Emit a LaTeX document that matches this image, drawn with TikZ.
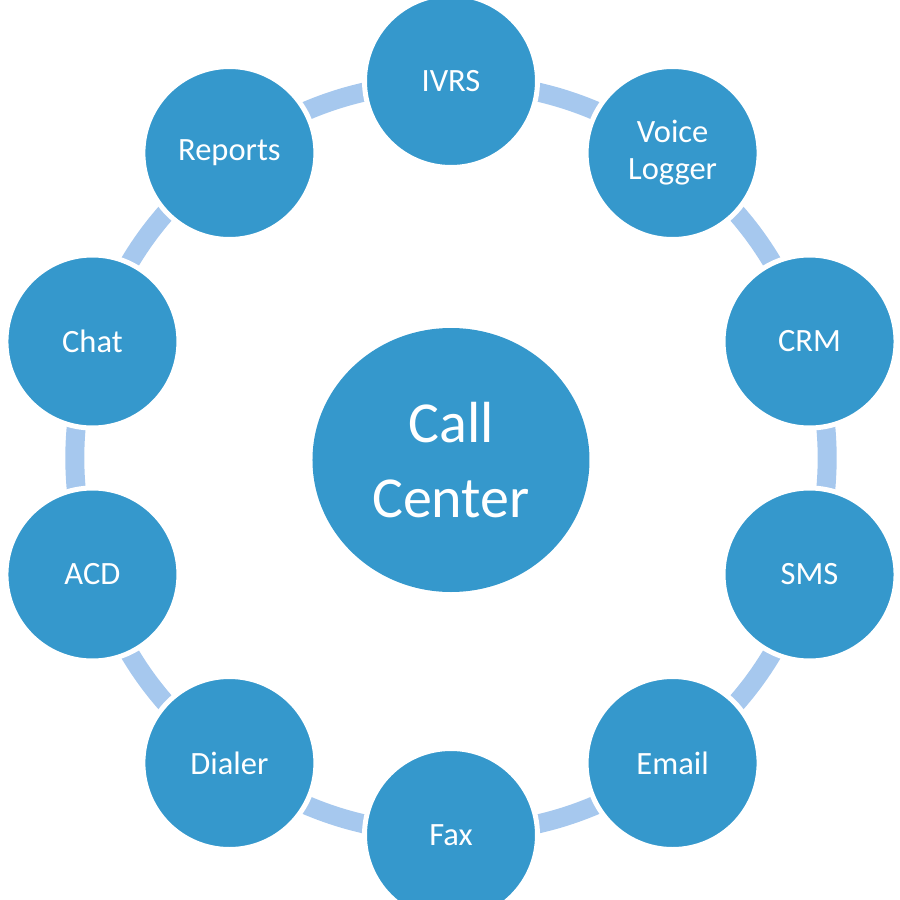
\documentclass[tikz,border=0pt]{standalone}
\usepackage{fontspec}
\setmainfont{Carlito}
\usepackage{tikz}
\usetikzlibrary{shapes.geometric, backgrounds}
\definecolor{hubblue}{RGB}{53,152,204}
\definecolor{linkblue}{RGB}{166,200,238}
\tikzset{
    hub/.style={ellipse, fill=hubblue, minimum width=5.54cm, minimum height=5.28cm, inner sep=0pt, text=white, align=center, font=\fontsize{33}{42.5}\selectfont},
    module/.style={circle, fill=hubblue, draw=white, line width=0.1cm, minimum size=3.46cm, inner sep=0pt, text=white, align=center, font=\fontsize{18.5}{21}\selectfont},
    link/.style={draw=linkblue, line width=0.38cm}
}
\begin{document}
\begin{tikzpicture}
        \useasboundingbox (-9.02,-8.84) rectangle (8.98,9.16);

        % Hub
        \node[hub] (CallCenter) at (0,-0.04) {Call\\Center};

        % Modules round the ring
        \node[module] (IVRS) at (90:7.54) {IVRS};
        \node[module] (Voice) at (54:7.54) {Voice\\Logger};
        \node[module] (CRM) at (18:7.54) {CRM};
        \node[module] (SMS) at (-18:7.54) {SMS};
        \node[module] (Email) at (-54:7.54) {Email};
        \node[module] (Fax) at (-90:7.54) {Fax};
        \node[module] (Dialer) at (-126:7.54) {Dialer};
        \node[module] (ACD) at (-162:7.54) {ACD};
        \node[module] (Chat) at (162:7.54) {Chat};
        \node[module] (Reports) at (126:7.54) {Reports};

        % Ring links
        \begin{pgfonlayer}{background}
            \foreach \from/\to in {IVRS/Voice, Voice/CRM, CRM/SMS, SMS/Email, Email/Fax, Fax/Dialer, Dialer/ACD, ACD/Chat, Chat/Reports, Reports/IVRS}
                \draw[link] (\from.center) to[bend left=15] (\to.center);
        \end{pgfonlayer}

    \end{tikzpicture}
\end{document}
